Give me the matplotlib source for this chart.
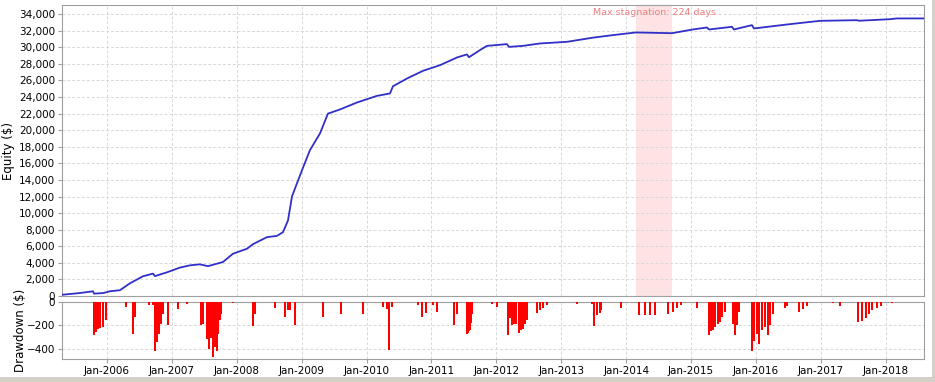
import matplotlib
matplotlib.use("Agg")
import matplotlib.pyplot as plt
from matplotlib.patches import Rectangle
from matplotlib.ticker import FuncFormatter

# equity curve, x in decimal years
eq_year = [2005.307, 2005.584, 2005.784, 2005.800, 2005.938, 2006.046, 2006.200,
           2006.354, 2006.555, 2006.709, 2006.740, 2006.925, 2007.125, 2007.279,
           2007.433, 2007.556, 2007.695, 2007.787, 2007.941, 2008.157, 2008.250,
           2008.465, 2008.619, 2008.712, 2008.789, 2008.851, 2008.928, 2009.005,
           2009.128, 2009.282, 2009.405, 2009.590, 2009.852, 2010.160, 2010.361,
           2010.407, 2010.622, 2010.869, 2011.131, 2011.393, 2011.547, 2011.578,
           2011.747, 2011.855, 2012.163, 2012.194, 2012.410, 2012.672, 2013.088,
           2013.488, 2013.797, 2014.151, 2014.706, 2015.029, 2015.245, 2015.276,
           2015.630, 2015.661, 2015.938, 2015.969, 2016.478, 2016.986, 2017.556,
           2017.587, 2018.065, 2018.173, 2018.589]
eq_value = [150, 360, 570, 290, 350, 570, 700,
            1530, 2380, 2700, 2400, 2860, 3430, 3700,
            3820, 3600, 3900, 4100, 5100, 5700, 6250,
            7100, 7250, 7700, 9100, 12000, 13600, 15170,
            17600, 19600, 22000, 22500, 23340, 24140, 24430,
            25300, 26230, 27160, 27840, 28770, 29140, 28800,
            29660, 30170, 30380, 30050, 30170, 30460, 30660,
            31160, 31470, 31790, 31700, 32150, 32390, 32150,
            32470, 32150, 32670, 32270, 32750, 33190, 33270,
            33200, 33390, 33480, 33480]

# drawdown spikes (decimal year, $)
dd_year = [2005.800, 2005.831, 2005.861, 2005.892, 2005.938, 2005.985,
           2006.293, 2006.401, 2006.431, 2006.647, 2006.709,
           2006.740, 2006.771, 2006.801, 2006.832, 2006.863, 2006.940,
           2007.094, 2007.233, 2007.449, 2007.479, 2007.541, 2007.572,
           2007.602, 2007.633, 2007.664, 2007.695, 2007.710, 2007.741,
           2007.757, 2007.941, 2008.250, 2008.281, 2008.588, 2008.742,
           2008.789, 2008.820, 2008.897, 2009.328, 2009.605, 2009.944,
           2010.252, 2010.314, 2010.345, 2010.391, 2010.792, 2010.854,
           2010.915, 2011.023, 2011.085, 2011.347, 2011.393, 2011.547,
           2011.562, 2011.578, 2011.593, 2011.609, 2011.624, 2011.932,
           2012.009, 2012.179, 2012.209, 2012.240, 2012.271, 2012.302,
           2012.348, 2012.379, 2012.410, 2012.441, 2012.471, 2012.625,
           2012.672, 2012.718, 2012.780, 2013.242, 2013.473, 2013.504,
           2013.549, 2013.596, 2013.611, 2013.919, 2014.196, 2014.289,
           2014.366, 2014.443, 2014.643, 2014.720, 2014.782, 2014.844,
           2015.090, 2015.276, 2015.307, 2015.337, 2015.368, 2015.414,
           2015.445, 2015.476, 2015.522, 2015.646, 2015.676, 2015.707,
           2015.738, 2015.938, 2015.969, 2016.015, 2016.046, 2016.092,
           2016.139, 2016.185, 2016.216, 2016.262, 2016.447, 2016.478,
           2016.663, 2016.724, 2016.786, 2017.186, 2017.294, 2017.572,
           2017.633, 2017.695, 2017.741, 2017.787, 2017.864, 2017.926,
           2018.096]
dd_value = [-280, -255, -230, -220, -215, -155,
            -40, -270, -130, -25, -25,
            -415, -340, -270, -185, -100, -200,
            -60, -17, -200, -185, -315, -400,
            -310, -466, -385, -415, -270, -155,
            -100, -5, -205, -100, -55, -127,
            -70, -70, -200, -132, -100, -100,
            -40, -63, -410, -40, -25, -132,
            -92, -25, -85, -193, -100, -270,
            -265, -250, -240, -180, -100, -17,
            -40, -285, -140, -200, -190, -185,
            -262, -240, -228, -190, -155, -92,
            -70, -55, -25, -17, -17, -205,
            -110, -90, -70, -55, -107, -107,
            -107, -107, -100, -85, -50, -25,
            -55, -285, -250, -240, -215, -190,
            -170, -127, -85, -185, -285, -200,
            -85, -415, -330, -270, -357, -240,
            -215, -285, -200, -100, -55, -30,
            -85, -60, -35, -12, -35, -170,
            -160, -140, -100, -70, -50, -30,
            -12]

years = list(range(2006, 2019))
stag_start, stag_end = 2014.15, 2014.71
stag_text = "Max stagnation: 224 days"

plt.rcParams['font.family'] = ['DejaVu Sans']

fig = plt.figure(figsize=(9.35, 3.82), dpi=100)
fig.patch.set_facecolor('white')
ax1 = fig.add_axes([0.0663, 0.2251, 0.9219, 0.7618])
ax2 = fig.add_axes([0.0663, 0.0602, 0.9219, 0.1492], sharex=ax1)

# window-like frame at right/bottom
fig.patches.append(Rectangle((0, 0), 1, 5.0 / 382, transform=fig.transFigure,
                             facecolor='#d4d0c8', edgecolor='none', zorder=0))
fig.patches.append(Rectangle((932.0 / 935, 0), 3.0 / 935, 1, transform=fig.transFigure,
                             facecolor='#d4d0c8', edgecolor='none', zorder=0))

ax1.axvspan(stag_start, stag_end, color='#fde3e3', lw=0, zorder=0)
ax1.text((stag_start + stag_end) / 2, 34150, stag_text, color='#f08080',
         fontsize=6.8, ha='center', va='center')
ax1.plot(eq_year, eq_value, color='#3030c8', lw=1.3, zorder=3)

ax2.bar(dd_year, dd_value, width=0.028, color='#ff0000', lw=0, align='center', zorder=3)

for ax in (ax1, ax2):
    ax.grid(True, color='#d8d8d8', linestyle=(0, (3, 2)), lw=0.7)
    ax.set_axisbelow(True)
    for s in ax.spines.values():
        s.set_color('#a0a0a0')
    ax.tick_params(labelsize=7.5, length=3, color='#a0a0a0', pad=2)

ax1.set_xlim(2005.307, 2018.589)
ax1.set_ylim(0, 35100)
ax1.set_yticks(range(0, 34001, 2000))
ax1.yaxis.set_major_formatter(FuncFormatter(lambda v, p: f"{int(v):,}"))
ax1.set_xticks(years)
ax1.tick_params(axis='x', labelbottom=False, length=0)
ax1.set_ylabel("Equity ($)", fontsize=8.5)
ax1.yaxis.set_label_coords(-0.055, 0.5)

ax2.set_ylim(-486, 0)
ax2.set_yticks([0, -200, -400])
ax2.set_xticks(years)
ax2.set_xticklabels([f"Jan-{y}" for y in years])
ax2.set_ylabel("Drawdown ($)", fontsize=8.5)
ax2.yaxis.set_label_coords(-0.041, 0.5)

fig.savefig("out.png", dpi=100, facecolor='white')
